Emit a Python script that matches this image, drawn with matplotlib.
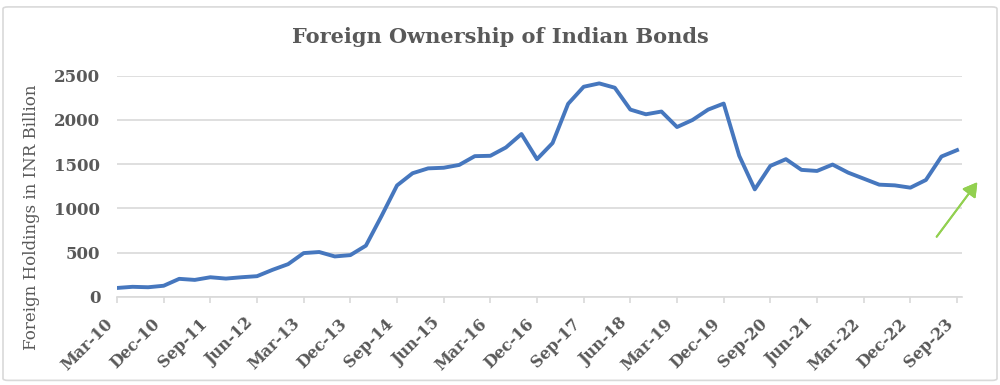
import matplotlib.pyplot as plt
from matplotlib.patches import FancyBboxPatch
from matplotlib.transforms import ScaledTranslation
import numpy as np

# quarterly, Mar-10 .. Sep-23
quarters = ['Mar', 'Jun', 'Sep', 'Dec']
periods = [f'{quarters[i % 4]}-{10 + i // 4:02d}' for i in range(55)]

holdings = [102, 115, 110, 127, 205, 193, 223, 208, 223, 235,
            307, 371, 496, 508, 458, 473, 580, 913, 1260, 1398,
            1453, 1460, 1492, 1591, 1595, 1689, 1841, 1557, 1739, 2182,
            2375, 2413, 2364, 2117, 2064, 2095, 1920, 2000, 2117, 2185,
            1595, 1216, 1481, 1557, 1436, 1424, 1496, 1405, 1337, 1269,
            1261, 1235, 1322, 1587, 1659]

yticks = [0, 500, 1000, 1500, 2000, 2500]

grey = '#595959'
plt.rcParams['font.family'] = ['DejaVu Serif']

fig = plt.figure(figsize=(10, 3.85), dpi=100)
ax = fig.add_axes([0.117, 0.2286, 0.845, 0.5748])

x = np.arange(len(holdings))
ax.plot(x, holdings, color='#4677BE', lw=2.8, solid_joinstyle='round', zorder=3)

ax.set_ylim(0, 2500)
ax.set_xlim(0, len(holdings) - 1 + 0.32)
ax.set_yticks(yticks)
ax.set_yticklabels([str(v) for v in yticks], fontsize=12, fontweight='bold', color=grey)
ax.set_xticks(x[::3])
ax.set_xticklabels(periods[::3], rotation=45, ha='right', fontsize=11.5,
                   fontweight='bold', color=grey)
shift = ScaledTranslation(5 / 100, 0, fig.dpi_scale_trans)
for lab in ax.get_xticklabels():
    lab.set_transform(lab.get_transform() + shift)
ax.tick_params(axis='y', length=0, pad=12)
ax.tick_params(axis='x', length=4, color='#d9d9d9', width=1.2, pad=9)
ax.grid(axis='y', color='#d9d9d9', lw=1.2)
ax.set_axisbelow(True)
for s in ['top', 'right', 'left']:
    ax.spines[s].set_visible(False)
ax.spines['bottom'].set_color('#d9d9d9')
ax.spines['bottom'].set_linewidth(1.2)

ax.set_ylabel('Foreign Holdings in INR Billion', fontsize=12, color=grey)
ax.yaxis.set_label_coords(-0.091, 0.36)
fig.text(0.5, 0.904, 'Foreign Ownership of Indian Bonds', ha='center', va='center',
         fontsize=15, fontweight='bold', color=grey)

# green arrow
fig.add_artist(plt.annotate('', xy=(0.979, 1 - 180 / 385), xytext=(0.935, 1 - 239 / 385),
                            xycoords='figure fraction',
                            arrowprops=dict(arrowstyle='-|>,head_length=0.6,head_width=0.35',
                                            color='#92D050', lw=1.4, mutation_scale=14)))

border = FancyBboxPatch((0.003, 0.012), 0.994, 0.97, boxstyle='round,pad=0,rounding_size=0.005',
                        transform=fig.transFigure, fill=False, edgecolor='#d9d9d9', lw=1.2)
fig.add_artist(border)

fig.savefig('out.png', dpi=100)
